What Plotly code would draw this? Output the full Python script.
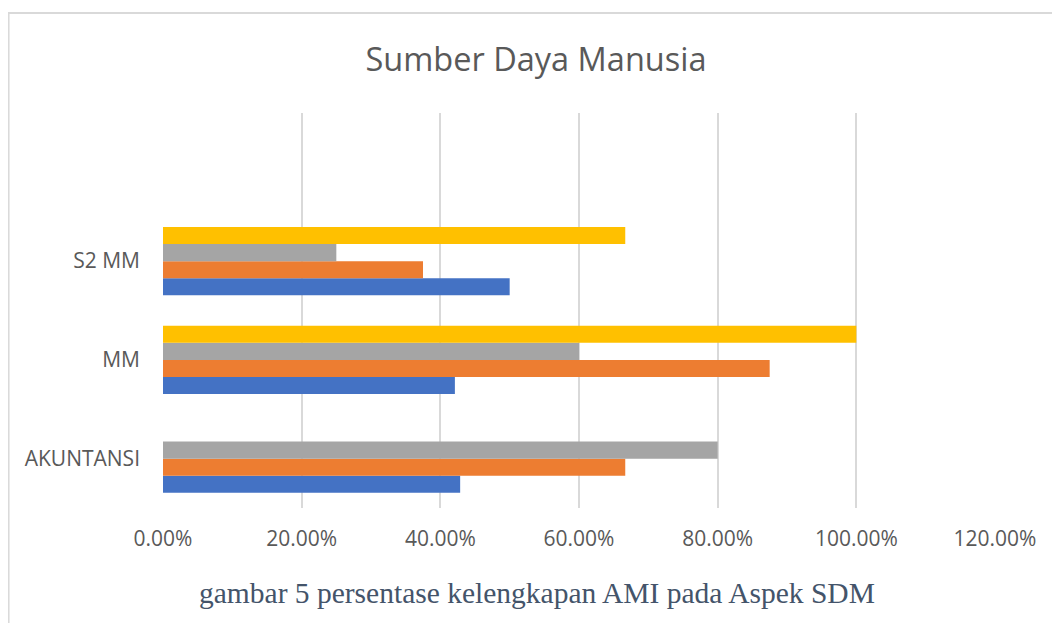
import plotly.graph_objects as go

# data
categories = ["AKUNTANSI", "MM", "S2 MM"]
series_1 = [0.4286, 0.4210, 0.5000]   # blue
series_2 = [0.6667, 0.8750, 0.3750]   # orange
series_3 = [0.8000, 0.6000, 0.2500]   # gray
series_4 = [None, 1.0000, 0.6667]     # yellow

x_ticks = [0, 0.2, 0.4, 0.6, 0.8, 1.0, 1.2]

colors = ["#4472C4", "#ED7D31", "#A5A5A5", "#FFC000"]
names = ["Series 1", "Series 2", "Series 3", "Series 4"]

# the page puts the figure 8px in from the top-left corner
OFF = 8
L, R, T, B = 163 - OFF, 1060 - (995 - OFF), 113 - OFF, 623 - (508 - OFF)
PW, PH = 1060 - L - R, 623 - T - B


def px_x(page_x):
    return (page_x - OFF - L) / PW


def px_y(page_y):
    return (623 - B - (page_y - OFF)) / PH


fig = go.Figure()

for name, values, color in zip(names, [series_1, series_2, series_3, series_4], colors):
    fig.add_trace(go.Bar(
        y=categories,
        x=values,
        name=name,
        orientation="h",
        marker=dict(color=color, line=dict(width=0)),
        hovertemplate="%{y}<br>%{x:.2%}<extra></extra>",
    ))

fig.update_layout(
    width=1060,
    height=623,
    paper_bgcolor="white",
    plot_bgcolor="white",
    barmode="group",
    bargap=0.31,
    bargroupgap=0,
    showlegend=False,
    margin=dict(l=L, r=R, t=T, b=B),
    font=dict(family="Open Sans, sans-serif", size=21, color="#595959"),
    title=dict(
        text="Sumber Daya Manusia",
        x=px_x(536),
        xanchor="center",
        xref="paper",
        y=1 - (60 - OFF) / 623,
        yanchor="middle",
        yref="container",
        font=dict(family="Open Sans, sans-serif", size=32.5, color="#595959"),
    ),
    annotations=[
        dict(
            text="gambar 5 persentase kelengkapan AMI pada Aspek SDM",
            xref="paper",
            yref="paper",
            x=px_x(537),
            y=px_y(593),
            xanchor="center",
            yanchor="middle",
            showarrow=False,
            font=dict(family="Liberation Serif, Times New Roman, serif", size=29.5, color="#44546A"),
        )
    ],
    shapes=[
        # chart frame (top and left edges visible in the reference)
        dict(type="line", xref="paper", yref="paper",
             x0=px_x(4), x1=px_x(1075),
             y0=px_y(13), y1=px_y(13),
             line=dict(color="#d9d9d9", width=2)),
        dict(type="line", xref="paper", yref="paper",
             x0=px_x(8.8), x1=px_x(8.8),
             y0=px_y(13), y1=px_y(640),
             line=dict(color="#d9d9d9", width=1.5)),
    ],
)

fig.update_xaxes(
    range=[0, 1.2],
    tickvals=x_ticks,
    tickformat=".2%",
    showgrid=True,
    gridcolor="#d9d9d9",
    gridwidth=1.5,
    zeroline=False,
    showline=False,
    ticks="",
    ticklabelstandoff=16,
    tickfont=dict(size=21, color="#595959"),
)

fig.update_yaxes(
    type="category",
    categoryorder="array",
    categoryarray=categories,
    range=[-0.5, 3.5],
    showgrid=False,
    zeroline=False,
    showline=False,
    ticks="",
    ticklabelstandoff=22,
    tickfont=dict(size=21, color="#595959"),
)

fig.write_html("out.html")
